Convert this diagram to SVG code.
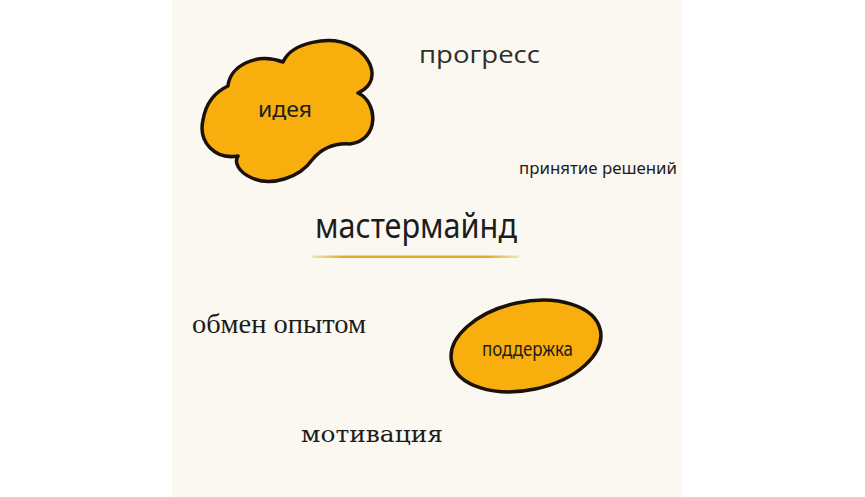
<svg xmlns="http://www.w3.org/2000/svg" width="865" height="497" viewBox="0 0 865 497">
  <defs>
    <linearGradient id="ul" x1="0" y1="0" x2="1" y2="0">
      <stop offset="0" stop-color="#e2b23a" stop-opacity="0.3"/>
      <stop offset="0.15" stop-color="#e0ad2a"/>
      <stop offset="0.85" stop-color="#e0ad2a"/>
      <stop offset="1" stop-color="#e2b23a" stop-opacity="0.3"/>
    </linearGradient>
  </defs>
  <style>
    .blob { fill: #f8ae0d; stroke: #1a1208; stroke-width: 3.5; stroke-linejoin: round; }
    .t { fill: #1c1c1c; }
    .hand { font-family: "Noto Sans", "Open Sans", sans-serif; }
  </style>
  <rect x="0" y="0" width="865" height="497" fill="#ffffff"/>
  <rect x="172" y="0" width="510" height="497" fill="#faf8f0"/>

  <g id="connectors"></g>

  <g id="node-idea">
    <path class="blob" d="M 228,86 C 230,66 256,52 283,62 C 292,42 330,35 352,46 C 372,56 382,82 358,93 C 378,102 380,140 350,144 C 335,143 322,148 312,160 C 300,177 272,187 252,178 C 238,172 234,162 238,156 C 215,160 198,142 203,120 C 206,102 215,92 228,86 Z"/>
    <text class="t hand" x="258" y="117" font-size="22" textLength="54" lengthAdjust="spacingAndGlyphs">идея</text>
  </g>

  <g id="node-progress">
    <text x="419" y="63" font-family="'Open Sans', sans-serif" font-size="24" fill="#2e2e2e" textLength="121" lengthAdjust="spacingAndGlyphs">прогресс</text>
  </g>

  <g id="node-decisions">
    <text class="t hand" x="519" y="174" font-size="16" textLength="158" lengthAdjust="spacingAndGlyphs">принятие решений</text>
  </g>

  <g id="node-mastermind">
    <text class="t hand" x="315" y="238" font-size="35" textLength="202" lengthAdjust="spacingAndGlyphs">мастермайнд</text>
    <rect x="312" y="255.5" width="207" height="2.5" fill="url(#ul)"/>
  </g>

  <g id="node-exchange">
    <text class="t" x="192" y="333" font-family="'Liberation Serif', serif" font-size="27" textLength="174" lengthAdjust="spacingAndGlyphs">обмен опытом</text>
  </g>

  <g id="node-support">
    <ellipse class="blob" cx="526" cy="346" rx="76" ry="44" transform="rotate(-12 526 346)" stroke-width="3"/>
    <text class="t hand" x="482" y="356" font-size="19" textLength="91" lengthAdjust="spacingAndGlyphs">поддержка</text>
  </g>

  <g id="node-motivation">
    <text class="t" x="301" y="442" font-family="'DejaVu Serif', serif" font-size="23" textLength="142" lengthAdjust="spacingAndGlyphs">мотивация</text>
  </g>
</svg>
